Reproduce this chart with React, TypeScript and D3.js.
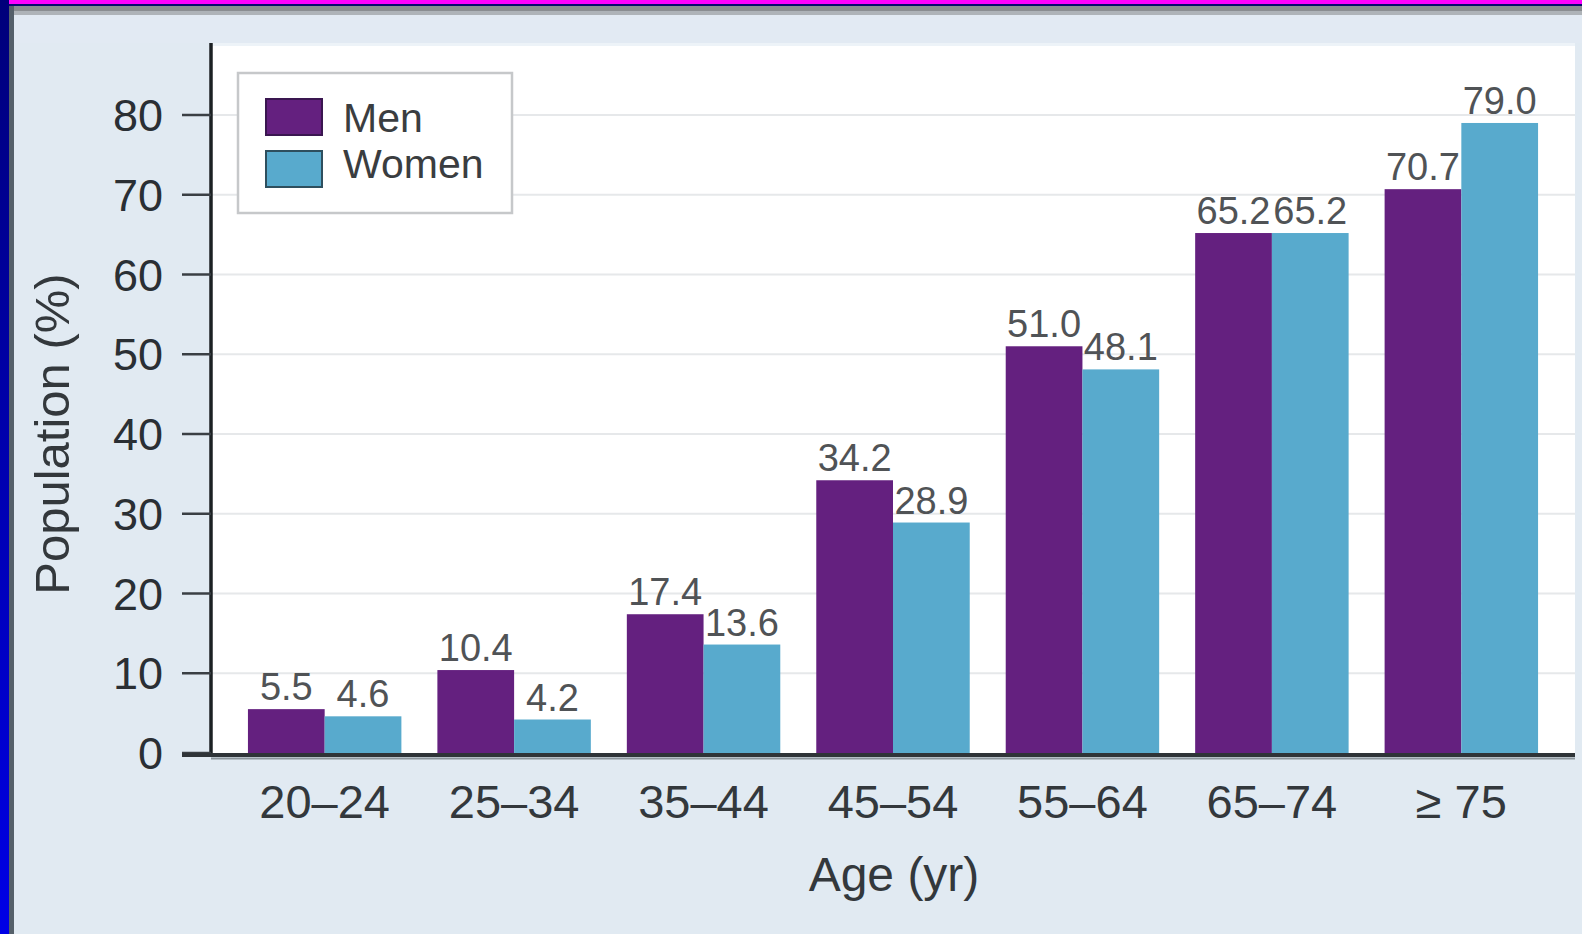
import React, { useEffect } from "react";
import * as d3 from "d3";

// Prevalence by age group and sex
const ageGroups: string[] = ["20–24", "25–34", "35–44", "45–54", "55–64", "65–74", "≥ 75"];
const menValues: number[] = [5.5, 10.4, 17.4, 34.2, 51.0, 65.2, 70.7];
const womenValues: number[] = [4.6, 4.2, 13.6, 28.9, 48.1, 65.2, 79.0];
const yTicks: number[] = [0, 10, 20, 30, 40, 50, 60, 70, 80];
const seriesNames: string[] = ["Men", "Women"];

const W = 1582;
const H = 934;
const FONT = "'Liberation Sans', Arial, Helvetica, sans-serif";
const MEN_COLOR = "#64207f";
const WOMEN_COLOR = "#58aacd";

const plot = { left: 211, right: 1575, top: 46, bottom: 753 };

export default function App() {
  useEffect(() => {
    document.body.style.margin = "0";
  }, []);

  const x = d3
    .scaleBand<string>()
    .domain(ageGroups)
    .range([plot.left, plot.right])
    .paddingInner(0.19)
    .paddingOuter(0.195);

  const sub = d3
    .scaleBand<string>()
    .domain(seriesNames)
    .range([0, x.bandwidth()])
    .padding(0);

  const y = d3.scaleLinear().domain([0, 80]).range([plot.bottom, 115]);

  const series = [
    { name: "Men", values: menValues, color: MEN_COLOR },
    { name: "Women", values: womenValues, color: WOMEN_COLOR },
  ];

  return (
    <svg
      width={W}
      height={H}
      style={{ position: "absolute", left: 0, top: 0, display: "block" }}
      fontFamily={FONT}
    >
      <defs>
        <linearGradient id="sideStrip" x1="0" y1="0" x2="0" y2="1">
          <stop offset="0" stopColor="#00007a" />
          <stop offset="1" stopColor="#0000e6" />
        </linearGradient>
      </defs>

      {/* page background and frame */}
      <rect x={0} y={0} width={W} height={H} fill="#e1eaf2" />
      <rect x={0} y={0} width={W} height={4} fill="#ff00ff" />
      <rect x={0} y={4} width={W} height={2} fill="#0a0a6e" />
      <rect x={0} y={6} width={W} height={5} fill="#8a8d91" />
      <rect x={0} y={11} width={W} height={4} fill="#aeb3b8" />
      <rect x={0} y={0} width={9} height={H} fill="url(#sideStrip)" />
      <rect x={9} y={6} width={5} height={H - 6} fill="#55606a" />
      <rect x={14} y={15} width={W - 14} height={28} fill="#e2eaf3" />
      <rect x={plot.left} y={43} width={plot.right - plot.left} height={4} fill="#edf3f8" />

      {/* plot area */}
      <rect
        x={plot.left}
        y={plot.top}
        width={plot.right - plot.left}
        height={plot.bottom - plot.top}
        fill="#ffffff"
      />

      {/* gridlines */}
      {yTicks
        .filter((t) => t > 0)
        .map((t) => (
          <line
            key={`g${t}`}
            x1={plot.left}
            x2={plot.right}
            y1={y(t)}
            y2={y(t)}
            stroke="#e6e8ea"
            strokeWidth={2}
          />
        ))}

      {/* bars */}
      {series.map((s) =>
        s.values.map((v, i) => (
          <rect
            key={`${s.name}${i}`}
            x={(x(ageGroups[i]) as number) + (sub(s.name) as number)}
            y={y(v)}
            width={sub.bandwidth()}
            height={y(0) - y(v)}
            fill={s.color}
          />
        ))
      )}

      {/* value labels */}
      {series.map((s) =>
        s.values.map((v, i) => (
          <text
            key={`l${s.name}${i}`}
            x={(x(ageGroups[i]) as number) + (sub(s.name) as number) + sub.bandwidth() / 2}
            y={y(v) - 9}
            textAnchor="middle"
            fontSize={38}
            fill="#505356"
          >
            {v.toFixed(1)}
          </text>
        ))
      )}

      {/* y axis */}
      <line x1={plot.left} x2={plot.left} y1={43} y2={plot.bottom + 4} stroke="#1c2124" strokeWidth={3.5} />
      {yTicks.map((t) => (
        <g key={`t${t}`}>
          <line x1={182} x2={plot.left} y1={y(t)} y2={y(t)} stroke="#3a3f44" strokeWidth={2.5} />
          <text
            x={163}
            y={y(t)}
            dy="0.36em"
            textAnchor="end"
            fontSize={45}
            fill="#2a2f34"
          >
            {t}
          </text>
        </g>
      ))}

      {/* x axis */}
      <line x1={182} x2={plot.right} y1={plot.bottom + 2} y2={plot.bottom + 2} stroke="#2f3438" strokeWidth={4} />
      <line x1={plot.left} x2={plot.right} y1={plot.bottom + 5.5} y2={plot.bottom + 5.5} stroke="#8c959c" strokeWidth={2} />
      {ageGroups.map((g) => (
        <text
          key={`a${g}`}
          x={(x(g) as number) + x.bandwidth() / 2}
          y={818}
          textAnchor="middle"
          fontSize={47}
          fill="#33383c"
        >
          {g}
        </text>
      ))}

      {/* axis titles */}
      <text x={894} y={891} textAnchor="middle" fontSize={48} fill="#33383c">
        Age (yr)
      </text>
      <text
        transform="translate(69,434) rotate(-90)"
        textAnchor="middle"
        fontSize={49}
        fill="#33383c"
      >
        Population (%)
      </text>

      {/* legend */}
      <rect x={238} y={73} width={274} height={140} fill="#ffffff" stroke="#c6c8ca" strokeWidth={2.5} />
      {series.map((s, i) => (
        <g key={`lg${s.name}`}>
          <rect
            x={266}
            y={99 + i * 52}
            width={56}
            height={36}
            fill={s.color}
            stroke={i === 0 ? "#3a1650" : "#2e4f5e"}
            strokeWidth={2}
          />
          <text x={343} y={132 + i * 46} fontSize={41} fill="#3a3d40">
            {s.name}
          </text>
        </g>
      ))}
    </svg>
  );
}
